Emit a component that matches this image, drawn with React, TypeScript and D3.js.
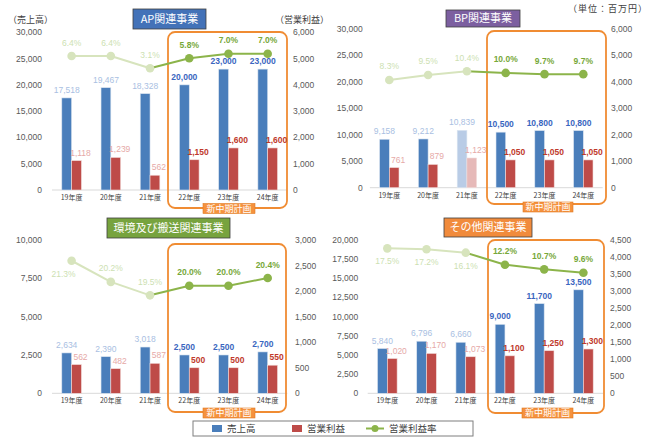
import * as d3 from "d3";

// 年度
const categories = ["19年度", "20年度", "21年度", "22年度", "23年度", "24年度"];
const isPlan = [false, false, false, true, true, true];

// AP関連事業
const apSales = [17518, 19467, 18328, 20000, 23000, 23000];
const apProfit = [1118, 1239, 562, 1150, 1600, 1600];
const apMargin = [6.4, 6.4, 3.1, 5.8, 7.0, 7.0];

// BP関連事業
const bpSales = [9158, 9212, 10839, 10500, 10800, 10800];
const bpProfit = [761, 879, 1123, 1050, 1050, 1050];
const bpMargin = [8.3, 9.5, 10.4, 10.0, 9.7, 9.7];
const bpFaded = [false, false, true, false, false, false];

// 環境及び搬送関連事業
const envSales = [2634, 2390, 3018, 2500, 2500, 2700];
const envProfit = [562, 482, 587, 500, 500, 550];
const envMargin = [21.3, 20.2, 19.5, 20.0, 20.0, 20.4];

// その他関連事業
const otherSales = [5840, 6796, 6660, 9000, 11700, 13500];
const otherProfit = [1020, 1170, 1073, 1100, 1250, 1300];
const otherMargin = [17.5, 17.2, 16.1, 12.2, 10.7, 9.6];

const legendItems = ["売上高", "営業利益", "営業利益率"];

const NUM = "'Liberation Sans', 'Noto Sans CJK JP', sans-serif";
const JP = "'Noto Sans CJK JP', sans-serif";

const BLUE = "#4a7ebb";
const RED = "#be4b48";
const BLUE_FADE = "#b9cce6";
const RED_FADE = "#e6b9b8";
const GREEN = "#8cb44a";
const GREEN_FADE = "#d7e4bd";
const ORANGE = "#f08c33";

const fmt = d3.format(",");

interface PanelCfg {
  title: string;
  titleFill: string;
  titleBox: [number, number, number, number];
  sales: number[];
  profit: number[];
  margin: number[];
  faded?: boolean[];
  below?: boolean[];
  xRange: [number, number];
  yRange: [number, number];
  leftMax: number;
  leftStep: number;
  rightMax: number;
  rightStep: number;
  pctDomain: [number, number];
  leftX: number;
  rightX: number;
  planBox: [number, number, number, number];
  planLabel: [number, number, number, number];
}

const panels: PanelCfg[] = [
  {
    title: "AP関連事業",
    titleFill: "#4372b8",
    titleBox: [133, 9, 206, 29],
    sales: apSales,
    profit: apProfit,
    margin: apMargin,
    xRange: [52, 287.3],
    yRange: [190, 32.3],
    leftMax: 30000,
    leftStep: 5000,
    rightMax: 6000,
    rightStep: 1000,
    pctDomain: [-29.5, 12.75],
    leftX: 42,
    rightX: 293,
    planBox: [168, 32, 287, 208],
    planLabel: [203, 203.5, 255, 213.5],
  },
  {
    title: "BP関連事業",
    titleFill: "#7c5fa0",
    titleBox: [446, 10, 520, 27],
    sales: bpSales,
    profit: bpProfit,
    margin: bpMargin,
    faded: bpFaded,
    xRange: [369.9, 602.7],
    yRange: [187.7, 29],
    leftMax: 30000,
    leftStep: 5000,
    rightMax: 6000,
    rightStep: 1000,
    pctDomain: [-17.7, 20.6],
    leftX: 362.7,
    rightX: 611,
    planBox: [487, 31, 606, 204],
    planLabel: [523, 202, 573, 212],
  },
  {
    title: "環境及び搬送関連事業",
    titleFill: "#77a33e",
    titleBox: [107, 218, 230, 238],
    sales: envSales,
    profit: envProfit,
    margin: envMargin,
    below: [true, false, false, false, false, false],
    xRange: [52, 287.3],
    yRange: [393.3, 240],
    leftMax: 10000,
    leftStep: 2500,
    rightMax: 3000,
    rightStep: 500,
    pctDomain: [14.4, 22.38],
    leftX: 42,
    rightX: 295,
    planBox: [168, 244, 286, 412],
    planLabel: [203, 408, 255, 418],
  },
  {
    title: "その他関連事業",
    titleFill: "#f18b3c",
    titleBox: [444, 218, 532, 237],
    sales: otherSales,
    profit: otherProfit,
    margin: otherMargin,
    below: [true, true, true, false, false, false],
    xRange: [367.7, 603],
    yRange: [393.3, 240],
    leftMax: 20000,
    leftStep: 2500,
    rightMax: 4500,
    rightStep: 500,
    pctDomain: [-29.4, 20.2],
    leftX: 358.3,
    rightX: 610,
    planBox: [488, 240, 604, 413],
    planLabel: [522, 408, 573, 418],
  },
];

function Panel({ cfg }: { cfg: PanelCfg }) {
  const x = d3.scaleBand<string>().domain(categories).range(cfg.xRange);
  const yL = d3.scaleLinear().domain([0, cfg.leftMax]).range(cfg.yRange);
  const yR = d3.scaleLinear().domain([0, cfg.rightMax]).range(cfg.yRange);
  const yP = d3.scaleLinear().domain(cfg.pctDomain).range(cfg.yRange);
  const bw = x.bandwidth() * 0.25;
  const cx = (c: string) => (x(c) ?? 0) + x.bandwidth() / 2;
  const leftTicks = d3.range(0, cfg.leftMax + 1, cfg.leftStep);
  const rightTicks = d3.range(0, cfg.rightMax + 1, cfg.rightStep);
  const [tx0, ty0, tx1, ty1] = cfg.titleBox;
  const [px0, py0, px1, py1] = cfg.planBox;
  const [lx0, ly0, lx1, ly1] = cfg.planLabel;
  const pts = categories.map((c, i) => [cx(c), yP(cfg.margin[i])] as [number, number]);
  const line = d3.line();

  return (
    <g>
      {/* 軸目盛 */}
      {leftTicks.map((t) => (
        <text key={"l" + t} x={cfg.leftX} y={yL(t)} dy="0.35em" textAnchor="end"
          fontSize={8.5} fill="#595959" fontFamily={NUM}>{fmt(t)}</text>
      ))}
      {rightTicks.map((t) => (
        <text key={"r" + t} x={cfg.rightX} y={yR(t)} dy="0.35em"
          fontSize={8.5} fill="#595959" fontFamily={NUM}>{fmt(t)}</text>
      ))}
      <line x1={cfg.xRange[0]} x2={cfg.xRange[1]} y1={cfg.yRange[0]} y2={cfg.yRange[0]}
        stroke="#d9d9d9" strokeWidth={1} />

      {/* 新中期計画 */}
      <rect x={px0} y={py0} width={px1 - px0} height={py1 - py0} rx={7}
        fill="none" stroke={ORANGE} strokeWidth={1.8} />

      {/* bars */}
      {categories.map((c, i) => {
        const f = cfg.faded?.[i];
        const xc = cx(c);
        return (
          <g key={c}>
            <rect x={xc - bw} y={yL(cfg.sales[i])} width={bw}
              height={cfg.yRange[0] - yL(cfg.sales[i])}
              fill={f ? BLUE_FADE : BLUE} stroke="#dbe5f1" strokeWidth={0.6} />
            <rect x={xc} y={yR(cfg.profit[i])} width={bw}
              height={cfg.yRange[0] - yR(cfg.profit[i])}
              fill={f ? RED_FADE : RED} stroke="#f2dcdb" strokeWidth={0.6} />
            <text x={xc - bw / 2} y={yL(cfg.sales[i]) - 5} textAnchor="middle"
              fontSize={8.5} fontFamily={NUM}
              fontWeight={isPlan[i] ? "bold" : "normal"}
              fill={isPlan[i] ? "#3a66c0" : "#a9c0e2"}>{fmt(cfg.sales[i])}</text>
            <text x={xc + bw / 2 + 4} y={yR(cfg.profit[i]) - 5} textAnchor="middle"
              fontSize={8.5} fontFamily={NUM}
              fontWeight={isPlan[i] ? "bold" : "normal"}
              fill={isPlan[i] ? "#c0392b" : "#e6a9a7"}>{fmt(cfg.profit[i])}</text>
            <text x={xc} y={cfg.yRange[0] + 10} textAnchor="middle" fontSize={7}
              fill="#404040" fontFamily={JP}>{c}</text>
          </g>
        );
      })}

      {/* 営業利益率 */}
      {pts.slice(0, -1).map((p, i) => (
        <path key={"s" + i} d={line([p, pts[i + 1]]) ?? ""} fill="none"
          stroke={i < 2 ? GREEN_FADE : GREEN} strokeWidth={2} />
      ))}
      {pts.map((p, i) => (
        <g key={"m" + i}>
          <circle cx={p[0]} cy={p[1]} r={4.3} fill={isPlan[i] ? GREEN : GREEN_FADE} />
          <text x={p[0] - (cfg.below?.[i] && i === 0 && cfg.pctDomain[0] > 0 ? 8 : 0)}
            y={cfg.below?.[i] ? p[1] + 16 : p[1] - 10.5} textAnchor="middle"
            fontSize={8.5} fontFamily={NUM}
            fontWeight={isPlan[i] ? "bold" : "normal"}
            fill={isPlan[i] ? "#77a83a" : "#cddfb2"}>
            {cfg.margin[i].toFixed(1)}%
          </text>
        </g>
      ))}

      <rect x={lx0} y={ly0} width={lx1 - lx0} height={ly1 - ly0} fill="#f5923e"
        stroke="#e07b22" strokeWidth={0.6} />
      <text x={(lx0 + lx1) / 2} y={(ly0 + ly1) / 2} dy="0.36em" textAnchor="middle"
        fontSize={9} fill="#fff" fontFamily={JP}>新中期計画</text>

      {/* title */}
      <rect x={tx0} y={ty0} width={tx1 - tx0} height={ty1 - ty0} fill={cfg.titleFill}
        stroke="#3f3f3f" strokeWidth={0.8} />
      <text x={(tx0 + tx1) / 2} y={(ty0 + ty1) / 2} dy="0.36em" textAnchor="middle"
        fontSize={11} fill="#fff" fontFamily={JP}>{cfg.title}</text>
    </g>
  );
}

export default function App() {
  return (
    <svg width={650} height={441} style={{ position: "absolute", left: 0, top: 0, background: "#fff" }}>
      <rect width={650} height={441} fill="#fff" />
      {panels.map((p) => (
        <Panel key={p.title} cfg={p} />
      ))}
      <text x={8} y={20} dy="0.35em" fontSize={9} fill="#404040" fontFamily={JP}>（売上高）</text>
      <text x={275} y={20} dy="0.35em" fontSize={9} fill="#404040" fontFamily={JP}>（営業利益）</text>
      <text x={568} y={9} dy="0.35em" fontSize={9} fill="#404040" fontFamily={JP}
        letterSpacing={1}>（単位：百万円）</text>

      {/* legend */}
      <rect x={193} y={421} width={280} height={15} fill="#fff" stroke="#7f7f7f" strokeWidth={1} />
      <rect x={212} y={425} width={10} height={7} fill={BLUE} />
      <text x={227} y={428.5} dy="0.35em" fontSize={9.5} fill="#404040" fontFamily={JP}>{legendItems[0]}</text>
      <rect x={292} y={425} width={10} height={7} fill={RED} />
      <text x={307} y={428.5} dy="0.35em" fontSize={9.5} fill="#404040" fontFamily={JP}>{legendItems[1]}</text>
      <line x1={366} x2={384} y1={428.5} y2={428.5} stroke={GREEN} strokeWidth={2} />
      <circle cx={375} cy={428.5} r={3.5} fill={GREEN} />
      <text x={389} y={428.5} dy="0.35em" fontSize={9.5} fill="#404040" fontFamily={JP}>{legendItems[2]}</text>
    </svg>
  );
}
